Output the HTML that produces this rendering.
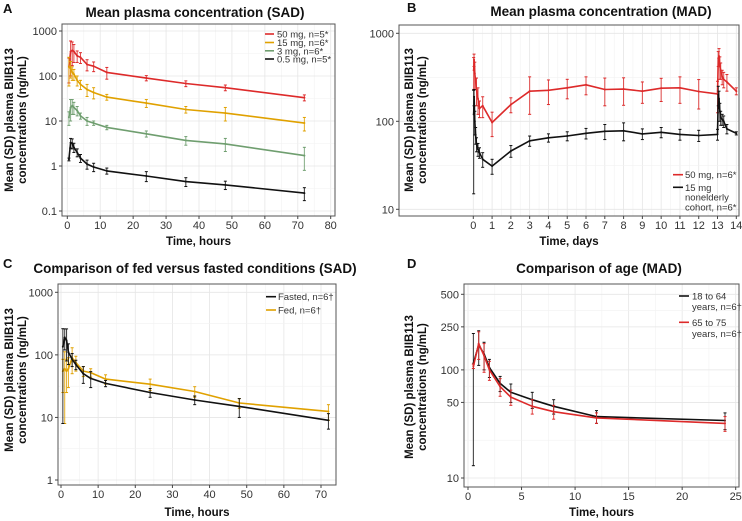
<!DOCTYPE html>
<html><head><meta charset="utf-8"><style>
body{margin:0;background:#fff;}
svg{display:block;font-family:"Liberation Sans",Arial,sans-serif;}
</style></head><body>
<svg id="c" width="742" height="521" viewBox="0 0 742 521"></svg>
<script>
// ---- Panel A data (SAD, hours) ----
const aTimes=[0.5,1,1.5,2,3,4,6,8,12,24,36,48,72];
const a50=[160,350,370,350,280,260,180,165,120,90,68,55,33];
const a50sd=[90,250,200,150,80,70,50,40,35,12,10,8,5];
const a15=[160,150,120,110,80,65,50,43,34,25,18,15,9];
const a15sd=[100,60,40,30,20,15,15,12,5,5,3,5,3];
const a3=[12,20,22,20,17,13,10,9,7.2,5.2,3.7,3.1,1.7];
const a3sd=[4,10,8,6,4,2,2,1,0.8,0.8,0.8,1,0.9];
const a05=[1.4,3.3,3.2,2.6,2.0,1.5,1.1,0.95,0.78,0.6,0.45,0.38,0.25];
const a05sd=[0.1,0.8,0.8,0.6,0.4,0.3,0.25,0.2,0.12,0.15,0.1,0.08,0.08];
// ---- Panel B data (MAD, days) ----
const bTimes50=[0.02,0.04,0.08,0.17,0.25,0.33,0.5,1,2,3,4,5,6,7,8,9,10,11,12,13,13.04,13.08,13.125,13.17,13.25,13.33,13.5,14];
const b50=[380,500,350,230,180,140,150,97,155,220,225,240,260,230,232,220,238,240,218,205,520,550,420,380,320,300,280,220];
const b50sd=[150,80,120,80,60,30,40,30,30,100,70,60,60,80,80,60,70,80,80,80,100,120,120,80,60,60,60,20];
const bTimes15=[0.02,0.04,0.08,0.125,0.17,0.25,0.33,0.5,1,2,3,4,5,6,7,8,9,10,11,12,13,13.04,13.08,13.125,13.17,13.25,13.33,13.5,14];
const b15=[120,190,100,70,55,48,44,37,31,46,60,65,68,73,77,78,72,75,71,69,71,200,180,130,110,105,100,82,73];
const b15sd=[105,40,30,15,10,8,6,7,6,7,8,7,8,10,15,18,10,10,10,10,10,50,40,30,20,15,15,10,3];
// ---- Panel C data (fed vs fasted, hours) ----
const cTimes=[0.5,1,1.5,2,3,4,6,8,12,24,36,48,72];
const cFasted=[135,190,170,110,85,70,50,42,35,25,19,15,9];
const cFastedSd=[127,70,90,40,20,12,15,12,4,4,3,5,2.5];
const cFed=[55,60,55,60,90,75,55,52,41,34,26,17,12.5];
const cFedSd=[30,52,30,30,40,20,10,8,7,7,5,3,3.5];
// ---- Panel D data (age, hours) ----
const dTimes=[0.5,1,1.5,2,3,4,6,8,12,24];
const dYoung=[115,170,140,105,75,62,53,46,37,34];
const dYoungSd=[102,60,40,20,12,12,9,7,5,6];
const dOld=[108,175,135,100,70,56,46,41,36,32];
const dOldSd=[5,50,40,20,13,9,7,6,4,5];

const svg=document.getElementById('c');
const NS='http://www.w3.org/2000/svg';
function mk(tag,attrs,parent,txt){const e=document.createElementNS(NS,tag);for(const k in attrs)e.setAttribute(k,attrs[k]);if(txt!==undefined)e.textContent=txt;(parent||svg).appendChild(e);return e;}

function panel(cfg){
  const g=mk('g',{});
  
  
  const L=cfg.box[0],T=cfg.box[1],R=cfg.box[2],B=cfg.box[3];
  const xs=v=>cfg.x0px+(v-cfg.xmin)*(cfg.x1px-cfg.x0px)/(cfg.xmax-cfg.xmin);
  const ys=v=>cfg.y0px+(Math.log10(v)-Math.log10(cfg.ymin))*(cfg.y1px-cfg.y0px)/(Math.log10(cfg.ymax)-Math.log10(cfg.ymin));
  mk('rect',{x:L,y:T,width:R-L,height:B-T,fill:'#fff'},g);
  // grid
  for(let i=0;i<cfg.xticks.length;i++){const v=cfg.xticks[i];
    mk('line',{x1:xs(v),x2:xs(v),y1:T,y2:B,stroke:'#e6e6e6','stroke-width':0.8},g);
    if(i<cfg.xticks.length-1){const m=(v+cfg.xticks[i+1])/2;mk('line',{x1:xs(m),x2:xs(m),y1:T,y2:B,stroke:'#f2f2f2','stroke-width':0.6},g);}
  }
  for(let i=0;i<cfg.yticks.length;i++){const v=cfg.yticks[i];
    mk('line',{x1:L,x2:R,y1:ys(v),y2:ys(v),stroke:'#e6e6e6','stroke-width':0.8},g);
    if(i<cfg.yticks.length-1){const m=Math.sqrt(v*cfg.yticks[i+1]);mk('line',{x1:L,x2:R,y1:ys(m),y2:ys(m),stroke:'#f2f2f2','stroke-width':0.6},g);}
  }
  // series
  cfg.series.forEach(s=>{
    const sg=mk('g',{},g);
    
    
    for(let i=0;i<s.x.length;i++){
      const lo=Math.max(s.y[i]-s.sd[i],cfg.ymin*1.02),hi=s.y[i]+s.sd[i];
      const x=xs(s.x[i]);
      mk('line',{x1:x,x2:x,y1:ys(lo),y2:ys(hi),stroke:s.color,'stroke-width':1,opacity:0.85},sg);
      mk('line',{x1:x-1.5,x2:x+1.5,y1:ys(lo),y2:ys(lo),stroke:s.color,'stroke-width':1},sg);
      mk('line',{x1:x-1.5,x2:x+1.5,y1:ys(hi),y2:ys(hi),stroke:s.color,'stroke-width':1},sg);
    }
    const pts=s.x.map((v,i)=>xs(v).toFixed(1)+','+ys(s.y[i]).toFixed(1)).join(' ');
    const pl=mk('polyline',{points:pts,fill:'none',stroke:s.color,'stroke-width':1.6,'stroke-linejoin':'round'},sg);
    
    
    s.x.forEach((v,i)=>mk('circle',{cx:xs(v),cy:ys(s.y[i]),r:1,fill:s.color},sg));
  });
  mk('rect',{x:L,y:T,width:R-L,height:B-T,fill:'none',stroke:'#555','stroke-width':1},g);
  // ticks
  const xa=mk('g',{},g);
  cfg.xticks.forEach((v,i)=>{mk('line',{x1:xs(v),x2:xs(v),y1:B,y2:B+3,stroke:'#444'},xa);
    mk('text',{x:xs(v),y:B+13,'text-anchor':'middle','font-size':11,fill:'#333'},xa,cfg.xlabels[i]);});
  const ya=mk('g',{},g);
  cfg.yticks.forEach((v,i)=>{mk('line',{x1:L-3,x2:L,y1:ys(v),y2:ys(v),stroke:'#444'},ya);
    mk('text',{x:L-5,y:ys(v)+4,'text-anchor':'end','font-size':11,fill:'#333'},ya,cfg.ylabels[i]);});
  const t=mk('text',{x:cfg.title[1],y:cfg.title[2],'text-anchor':'middle','font-size':13.5,'font-weight':'bold',fill:'#111'},g,cfg.title[0]);
  
  const lt=mk('text',{x:cfg.letter[1],y:cfg.letter[2],'font-size':13,'font-weight':'bold',fill:'#111'},g,cfg.letter[0]);
  
  const xl=mk('text',{x:(L+R)/2,y:cfg.xlabY,'text-anchor':'middle','font-size':11.5,'font-weight':'bold',fill:'#111'},g,cfg.xlab);
  
  const yl=mk('text',{transform:`translate(${cfg.ylab[0]},${cfg.ylab[2]}) rotate(-90)`,'text-anchor':'middle','font-size':11.5,'font-weight':'bold',fill:'#111'},g);
  
  mk('tspan',{x:0,y:0},yl,'Mean (SD) plasma BIIB113');
  mk('tspan',{x:0,y:cfg.ylab[1]-cfg.ylab[0]},yl,'concentrations (ng/mL)');
  // legend
  const lg=mk('g',{},g);
  cfg.legend.forEach(e=>{
    const eg=mk('g',{},lg);
    if(e.c){mk('line',{x1:cfg.legX[0],x2:cfg.legX[1],y1:e.y,y2:e.y,stroke:e.c,'stroke-width':1.6},eg);}
    mk('text',{x:cfg.legX[2],y:e.y+3.5,'font-size':9.5,fill:'#333'},eg,e.t);
  });
}

const RED='#dd2a2a',ORG='#e0a100',GRN='#6f9e6f',BLK='#111';
panel({name:'panel-a-sad',box:[62,24,335,216],xmin:0,xmax:80,x0px:67.3,x1px:330.7,ymin:0.1,ymax:1000,y0px:211,y1px:31,
 xticks:[0,10,20,30,40,50,60,70,80],xlabels:['0','10','20','30','40','50','60','70','80'],
 yticks:[0.1,1,10,100,1000],ylabels:['0.1','1','10','100','1000'],
 title:['Mean plasma concentration (SAD)',195,17],letter:['A',3,13],xlab:'Time, hours',xlabY:245,ylab:[13,26,120],
 series:[{name:'series-50mg',x:aTimes,y:a50,sd:a50sd,color:RED},{name:'series-15mg',x:aTimes,y:a15,sd:a15sd,color:ORG},
  {name:'series-3mg',x:aTimes,y:a3,sd:a3sd,color:GRN},{name:'series-0-5mg',x:aTimes,y:a05,sd:a05sd,color:BLK}],
 legX:[265,274,277],legend:[{c:RED,y:34,t:'50 mg, n=5*'},{c:ORG,y:42.5,t:'15 mg, n=6*'},{c:GRN,y:50.8,t:'3 mg, n=6*'},{c:BLK,y:59,t:'0.5 mg, n=5*'}]});
panel({name:'panel-b-mad',box:[399,25,739,216],xmin:0,xmax:14,x0px:473.3,x1px:736.3,ymin:10,ymax:1000,y0px:209.3,y1px:33.3,
 xticks:[0,1,2,3,4,5,6,7,8,9,10,11,12,13,14],xlabels:['0','1','2','3','4','5','6','7','8','9','10','11','12','13','14'],
 yticks:[10,100,1000],ylabels:['10','100','1000'],
 title:['Mean plasma concentration (MAD)',601,16],letter:['B',407,12],xlab:'Time, days',xlabY:245,ylab:[413,426,120],
 series:[{name:'series-50mg',x:bTimes50,y:b50,sd:b50sd,color:RED},{name:'series-15mg',x:bTimes15,y:b15,sd:b15sd,color:BLK}],
 legX:[673,683,685],legend:[{c:RED,y:174.7,t:'50 mg, n=6*'},{c:BLK,y:187.3,t:'15 mg'},{y:197,t:'nonelderly'},{y:207,t:'cohort, n=6*'}]});
panel({name:'panel-c-fed-fasted',box:[58,284,336,485],xmin:0,xmax:70,x0px:61,x1px:321,ymin:1,ymax:1000,y0px:480,y1px:292.3,
 xticks:[0,10,20,30,40,50,60,70],xlabels:['0','10','20','30','40','50','60','70'],
 yticks:[1,10,100,1000],ylabels:['1','10','100','1000'],
 title:['Comparison of fed versus fasted conditions (SAD)',195,273],letter:['C',3,268],xlab:'Time, hours',xlabY:516,ylab:[13,26,380],
 series:[{name:'series-fed',x:cTimes,y:cFed,sd:cFedSd,color:ORG},{name:'series-fasted',x:cTimes,y:cFasted,sd:cFastedSd,color:BLK}],
 legX:[266,276,278],legend:[{c:BLK,y:296.7,t:'Fasted, n=6†'},{c:ORG,y:310,t:'Fed, n=6†'}]});
panel({name:'panel-d-age',box:[464,284,739,487],xmin:0,xmax:25,x0px:468,x1px:735.7,ymin:10,ymax:500,y0px:478,y1px:294.3,
 xticks:[0,5,10,15,20,25],xlabels:['0','5','10','15','20','25'],
 yticks:[10,50,100,250,500],ylabels:['10','50','100','250','500'],
 title:['Comparison of age (MAD)',599,273],letter:['D',407,268],xlab:'Time, hours',xlabY:516,ylab:[413,426,387],
 series:[{name:'series-18-to-64',x:dTimes,y:dYoung,sd:dYoungSd,color:BLK},{name:'series-65-to-75',x:dTimes,y:dOld,sd:dOldSd,color:RED}],
 legX:[679,689,692],legend:[{c:BLK,y:296,t:'18 to 64'},{y:306.7,t:'years, n=6†'},{c:RED,y:322.3,t:'65 to 75'},{y:333.3,t:'years, n=6†'}]});
</script>
</body></html>
